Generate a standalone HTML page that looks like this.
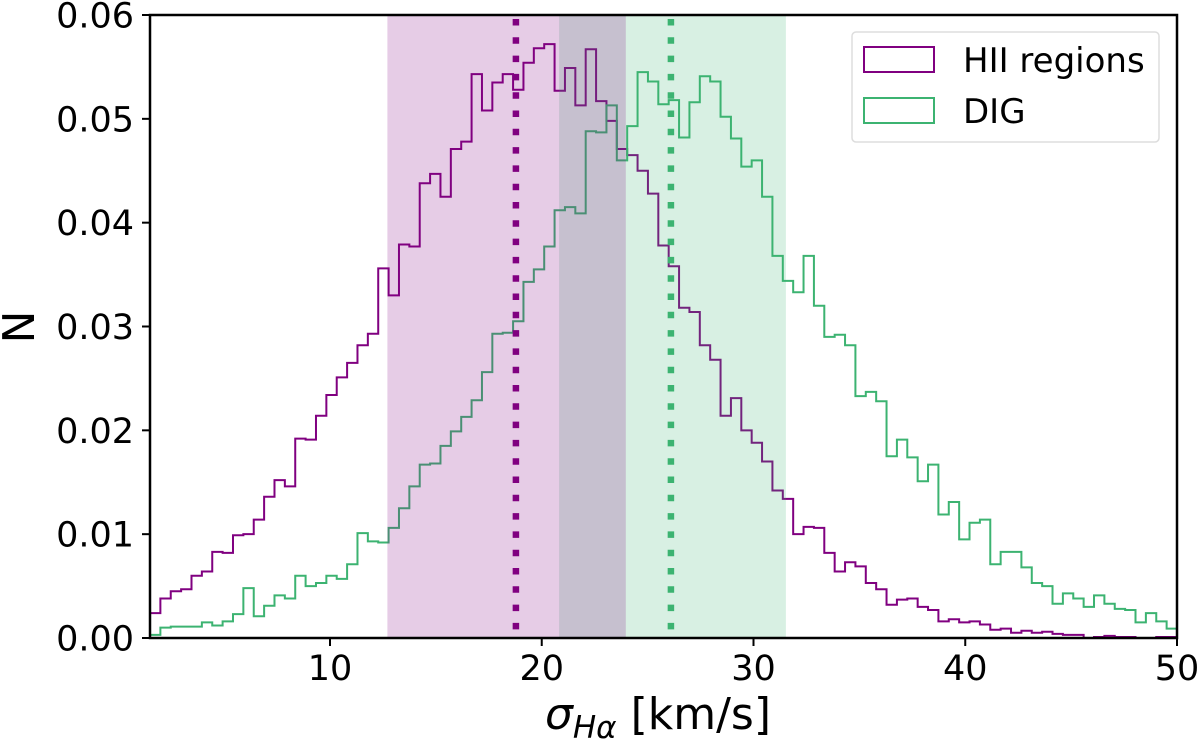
<!DOCTYPE html>
<html><head><meta charset="utf-8"><style>
body{margin:0;background:#fff;}
svg text{font-family:"DejaVu Sans","Liberation Sans",sans-serif;}
</style></head><body>
<svg id="chart" width="1200" height="743" xmlns="http://www.w3.org/2000/svg">
<g id="hists"></g>
<g id="spans"></g>
<g id="medians"></g>
<g id="axes"></g>
<g id="legend">
<rect x="852" y="32" width="307" height="110" rx="4" fill="#fff" fill-opacity="0.8" stroke="#ddd" stroke-width="1.5"/>
<rect x="864" y="47" width="70" height="25" fill="none" stroke="#800080" stroke-width="2"/>
<text x="963" y="72" font-size="34">HII regions</text>
<rect x="864" y="98" width="70" height="25" fill="none" stroke="#3cb371" stroke-width="2"/>
<text x="963" y="123" font-size="34">DIG</text>
</g>
</svg>
<script>
const binStart = 1.5;
const binWidth = 0.4899;
const hiiValues = [0.0024,0.0038,0.0045,0.0047,0.0060,0.0064,0.0083,0.0082,0.0099,0.0100,0.0114,0.0136,0.0152,0.0146,0.0192,0.0191,0.0214,0.0234,0.0251,0.0265,0.0282,0.0293,0.0356,0.0330,0.0379,0.0377,0.0438,0.0447,0.0425,0.0471,0.0478,0.0543,0.0508,0.0535,0.0543,0.0528,0.0554,0.0568,0.0572,0.0527,0.0549,0.0513,0.0567,0.0517,0.0498,0.0471,0.0465,0.0450,0.0428,0.0378,0.0358,0.0318,0.0314,0.0282,0.0268,0.0214,0.0231,0.0200,0.0188,0.0170,0.0142,0.0134,0.0100,0.0107,0.0106,0.0082,0.0064,0.0073,0.0069,0.0053,0.0047,0.0032,0.0037,0.0038,0.0030,0.0027,0.0016,0.0018,0.0015,0.0016,0.0013,0.0008,0.0009,0.0005,0.0007,0.0005,0.0006,0.0004,0.0003,0.0003,0.0000,0.0001,0.0002,0.0001,0.0001,0.0000,0.0000,0.0001,0.0001];
const digValues = [0.0003,0.0010,0.0011,0.0011,0.0011,0.0015,0.0012,0.0016,0.0023,0.0048,0.0021,0.0031,0.0041,0.0038,0.0060,0.0050,0.0053,0.0060,0.0057,0.0071,0.0101,0.0093,0.0092,0.0106,0.0125,0.0146,0.0167,0.0168,0.0185,0.0199,0.0213,0.0229,0.0256,0.0293,0.0294,0.0305,0.0343,0.0355,0.0377,0.0412,0.0415,0.0409,0.0488,0.0487,0.0513,0.0460,0.0493,0.0545,0.0536,0.0514,0.0518,0.0482,0.0516,0.0541,0.0536,0.0502,0.0481,0.0454,0.0460,0.0425,0.0368,0.0344,0.0333,0.0368,0.0320,0.0290,0.0292,0.0282,0.0233,0.0237,0.0228,0.0175,0.0191,0.0174,0.0151,0.0167,0.0119,0.0131,0.0095,0.0111,0.0114,0.0071,0.0083,0.0083,0.0068,0.0053,0.0050,0.0033,0.0043,0.0038,0.0030,0.0041,0.0033,0.0028,0.0027,0.0015,0.0024,0.0016,0.0009];
const hiiSpan = [12.71, 23.97];
const digSpan = [20.82, 31.53];
const hiiMedian = 18.78;
const digMedian = 26.1;
const xTicks = [10, 20, 30, 40, 50];
const yTicks = [0, 0.01, 0.02, 0.03, 0.04, 0.05, 0.06];
const yTickLabels = ["0.00","0.01","0.02","0.03","0.04","0.05","0.06"];

const X0=150, X1=1177, Y0=638, Y1=15, XMIN=1.5, XMAX=50, YMIN=0, YMAX=0.06;
const sx = v => X0 + (v-XMIN)/(XMAX-XMIN)*(X1-X0);
const sy = v => Y0 - (v-YMIN)/(YMAX-YMIN)*(Y0-Y1);
const NS="http://www.w3.org/2000/svg";
function mk(tag, parent){const e=document.createElementNS(NS,tag);document.getElementById(parent).appendChild(e);return e;}

function stepPath(vals){
  let d='M'+sx(binStart)+','+sy(0);
  vals.forEach((v,i)=>{const a=sx(binStart+i*binWidth),b=sx(binStart+(i+1)*binWidth);d+=' L'+a+','+sy(v)+' L'+b+','+sy(v);});
  d+=' L'+sx(binStart+vals.length*binWidth)+','+sy(0);
  return d;
}
let p=mk('path','hists');


p.setAttribute('d',stepPath(hiiValues));p.setAttribute('fill','none');p.setAttribute('stroke','#800080');p.setAttribute('stroke-width','2');
p=mk('path','hists');


p.setAttribute('d',stepPath(digValues));p.setAttribute('fill','none');p.setAttribute('stroke','#3cb371');p.setAttribute('stroke-width','2');

// spans (drawn over histograms)
let r=mk('rect','spans');


r.setAttribute('x',sx(digSpan[0]));r.setAttribute('y',Y1);r.setAttribute('width',sx(digSpan[1])-sx(digSpan[0]));r.setAttribute('height',Y0-Y1);r.setAttribute('fill','#3cb371');r.setAttribute('fill-opacity','0.2');
r=mk('rect','spans');


r.setAttribute('x',sx(hiiSpan[0]));r.setAttribute('y',Y1);r.setAttribute('width',sx(hiiSpan[1])-sx(hiiSpan[0]));r.setAttribute('height',Y0-Y1);r.setAttribute('fill','#800080');r.setAttribute('fill-opacity','0.2');

// medians
[[hiiMedian,'#800080','hii-median-line'],[digMedian,'#3cb371','dig-median-line']].forEach(m=>{
  const l=mk('line','medians');
  
  
  l.setAttribute('x1',sx(m[0]));l.setAttribute('x2',sx(m[0]));l.setAttribute('y1',Y1+4);l.setAttribute('y2',Y0);
  l.setAttribute('stroke',m[1]);l.setAttribute('stroke-width','6.5');l.setAttribute('stroke-dasharray','6.5 11.8');
});

// axes frame
const f=mk('rect','axes');


f.setAttribute('x',X0);f.setAttribute('y',Y1);f.setAttribute('width',X1-X0);f.setAttribute('height',Y0-Y1);f.setAttribute('fill','none');f.setAttribute('stroke','#000');f.setAttribute('stroke-width','2.5');
xTicks.forEach(t=>{
  const l=mk('line','axes');
  
  
  l.setAttribute('x1',sx(t));l.setAttribute('x2',sx(t));l.setAttribute('y1',Y0);l.setAttribute('y2',Y0+8);l.setAttribute('stroke','#000');l.setAttribute('stroke-width','2');
  const tx=mk('text','axes');
  
  
  tx.setAttribute('x',sx(t));tx.setAttribute('y',680);tx.setAttribute('font-size','35');tx.setAttribute('text-anchor','middle');tx.textContent=t;
});
yTicks.forEach((t,i)=>{
  const l=mk('line','axes');
  
  
  l.setAttribute('x1',X0-8);l.setAttribute('x2',X0);l.setAttribute('y1',sy(t));l.setAttribute('y2',sy(t));l.setAttribute('stroke','#000');l.setAttribute('stroke-width','2');
  const tx=mk('text','axes');
  
  
  tx.setAttribute('x',134);tx.setAttribute('y',sy(t)+12.5);tx.setAttribute('font-size','35');tx.setAttribute('text-anchor','end');tx.textContent=yTickLabels[i];
});
const yl=mk('text','axes');


yl.setAttribute('transform','translate(34,327) rotate(-90)');yl.setAttribute('font-size','44');yl.setAttribute('text-anchor','middle');yl.textContent='N';
const xl=mk('text','axes');


xl.setAttribute('x',658);xl.setAttribute('y',729);xl.setAttribute('font-size','44');xl.setAttribute('text-anchor','middle');
xl.innerHTML='<tspan font-style="italic">σ</tspan><tspan font-style="italic" font-size="31" dy="9">Hα</tspan><tspan dy="-9"> [km/s]</tspan>';
</script>
</body></html>
